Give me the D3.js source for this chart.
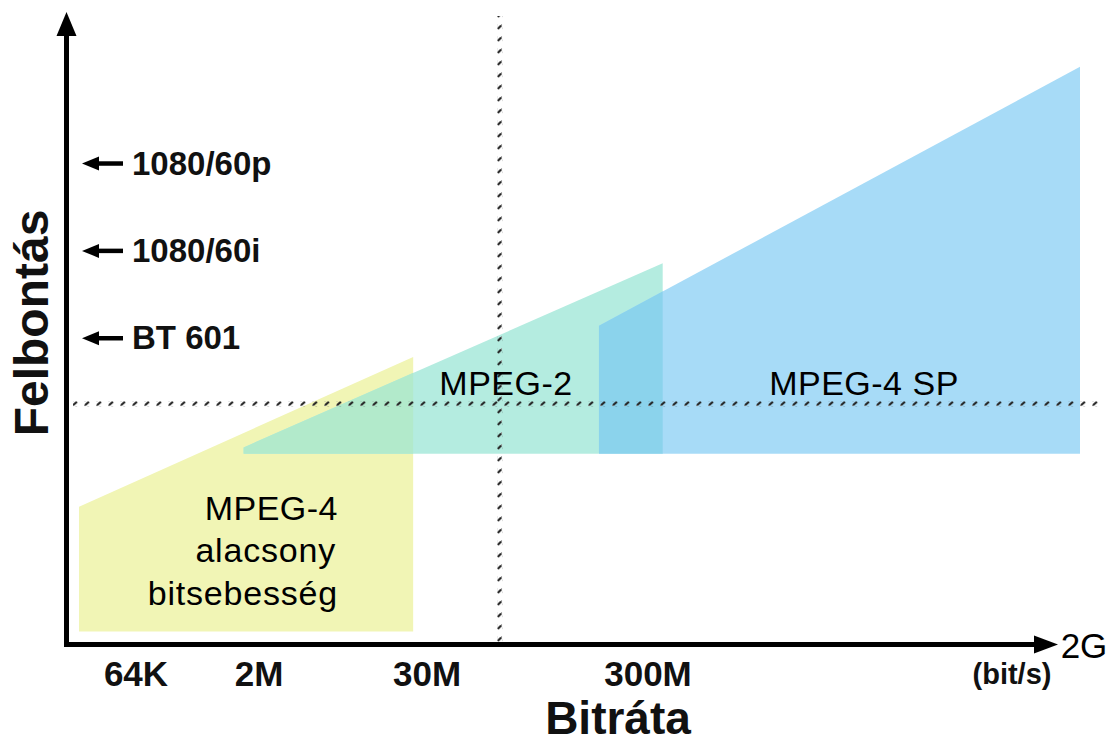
<!DOCTYPE html>
<html>
<head>
<meta charset="utf-8">
<script src="https://cdn.jsdelivr.net/npm/d3@7"></script>
<style>
  html, body { margin: 0; padding: 0; background: #fff; }
  svg { display: block; font-family: "Liberation Sans", Arial, sans-serif; }
</style>
</head>
<body>
<svg id="chart" width="1116" height="744"></svg>
<script>
// ---------------- DATA ----------------
// Bitrate axis (bit/s)
const xTickLabels = ["64K", "2M", "30M", "300M", "2G"];
const xTickValues = [64e3, 2e6, 30e6, 300e6, 2e9];

// Resolution reference levels (relative scale 0..100)
const resLabels = ["1080/60p", "1080/60i", "BT 601"];
const resLevels = [77, 63, 49];

// Codec regions: bitrate span, bottom level, top level at start / end
const codecNames   = ["MPEG-4 alacsony bitsebesség", "MPEG-2", "MPEG-4 SP"];
const codecRateMin = [13e3, 1.3e6, 180e6];
const codecRateMax = [24e6, 320e6, 2e9];
const codecLevelBottom = [2, 30.5, 30.5];
const codecLevelTopStart = [22, 31.5, 51];
const codecLevelTopEnd   = [46, 61, 92.5];

// Reference (dotted) lines
const refRate = 64e6;
const refLevel = 38.5;

// ---------------- LAYOUT ----------------
const svg = d3.select("#chart");
const axisX = 66.5, axisY = 644.5;
const tickPixel = [136, 259, 427, 648, 1080];
const x = d3.scaleLinear().domain(xTickValues.map(Math.log10)).range(tickPixel);
const xr = v => x(Math.log10(v));
const y = d3.scaleLinear().domain([0, 100]).range([644, 20]);

const colors = ["#f1f5b5", "#b4ece0", "#a7dbf7"];
const overlapYT = "#b2eacb";
const overlapTB = "#8bd3ec";

const defs = svg.append("defs");

const shapes = codecNames.map((n, i) => ({
  name: n,
  pts: [
    [xr(codecRateMin[i]), y(codecLevelBottom[i])],
    [xr(codecRateMin[i]), y(codecLevelTopStart[i])],
    [xr(codecRateMax[i]), y(codecLevelTopEnd[i])],
    [xr(codecRateMax[i]), y(codecLevelBottom[i])]
  ]
}));
const line = d3.line();

shapes.forEach((s, i) => {
  defs.append("clipPath").attr("id", "clip" + i)
    .append("path").attr("d", line(s.pts) + "Z");
});

const g = svg.append("g");
g.selectAll("path.region").data(shapes).join("path")
  .attr("class", "region")
  .attr("d", d => line(d.pts) + "Z")
  .attr("fill", (d, i) => colors[i]);

g.append("path").attr("d", line(shapes[1].pts) + "Z")
  .attr("fill", overlapYT).attr("clip-path", "url(#clip0)");
g.append("path").attr("d", line(shapes[2].pts) + "Z")
  .attr("fill", overlapTB).attr("clip-path", "url(#clip1)");

// dotted patterns (small slashes)
const ph = defs.append("pattern").attr("id", "dashH")
  .attr("patternUnits", "userSpaceOnUse").attr("width", 12).attr("height", 5)
  .attr("x", 0).attr("y", y(refLevel) - 2.5);
ph.append("path").attr("d", "M1,4 L5,0.5").attr("stroke", "#222").attr("stroke-width", 2.2);
ph.append("rect").attr("x", 0).attr("y", 4).attr("width", 2).attr("height", 1).attr("fill", "#888");
const pv = defs.append("pattern").attr("id", "dashV")
  .attr("patternUnits", "userSpaceOnUse").attr("width", 5).attr("height", 12)
  .attr("x", xr(refRate) - 2.5).attr("y", 0);
pv.append("path").attr("d", "M0.5,5 L4,1.5").attr("stroke", "#222").attr("stroke-width", 2.2);
pv.append("rect").attr("x", 4).attr("y", 0).attr("width", 1).attr("height", 2).attr("fill", "#999");

g.append("rect").attr("x", 73).attr("y", y(refLevel) - 2.5)
  .attr("width", 1102 - 73).attr("height", 5).attr("fill", "url(#dashH)");
g.append("rect").attr("x", xr(refRate) - 2.5).attr("y", 16)
  .attr("width", 5).attr("height", axisY - 16).attr("fill", "url(#dashV)");

// region labels
const lab = svg.append("g").attr("fill", "#000").attr("font-size", 34);
lab.append("text").attr("x", 338).attr("y", 520).attr("text-anchor", "end").attr("letter-spacing", 0.5).text("MPEG-4");
lab.append("text").attr("x", 336).attr("y", 562).attr("text-anchor", "end").attr("letter-spacing", 0.8).text("alacsony");
lab.append("text").attr("x", 338).attr("y", 605).attr("text-anchor", "end").attr("letter-spacing", 0.8).text("bitsebesség");
lab.append("text").attr("x", 506).attr("y", 395).attr("text-anchor", "middle").attr("letter-spacing", 0.5).text("MPEG-2");
lab.append("text").attr("x", 864).attr("y", 395).attr("text-anchor", "middle").attr("letter-spacing", 0.5).text("MPEG-4 SP");

// axes
const ax = svg.append("g");
ax.append("line").attr("x1", axisX).attr("x2", axisX).attr("y1", axisY + 2.5).attr("y2", 34)
  .attr("stroke", "#000").attr("stroke-width", 5);
ax.append("path").attr("d", `M${axisX},12 L${axisX - 10},36 L${axisX + 10},36 Z`).attr("fill", "#000");
ax.append("line").attr("x1", axisX - 2.5).attr("x2", 1038).attr("y1", axisY).attr("y2", axisY)
  .attr("stroke", "#000").attr("stroke-width", 5);
ax.append("path").attr("d", `M1058,${axisY} L1034,${axisY - 9} L1034,${axisY + 9} Z`).attr("fill", "#000");

// x tick labels
ax.selectAll("text.xt").data(xTickLabels.slice(0, 4)).join("text")
  .attr("class", "xt")
  .attr("x", (d, i) => xr(xTickValues[i]))
  .attr("y", 686)
  .attr("text-anchor", "middle")
  .attr("font-size", 35).attr("font-weight", "bold").attr("fill", "#111")
  .text(d => d);
ax.append("text").attr("x", xr(xTickValues[4]) + 4).attr("y", 658)
  .attr("text-anchor", "middle").attr("font-size", 35).attr("fill", "#000")
  .text(xTickLabels[4]);
ax.append("text").attr("x", 1012).attr("y", 684).attr("text-anchor", "middle")
  .attr("font-size", 29).attr("font-weight", "bold").attr("fill", "#111").text("(bit/s)");

// resolution markers
const rg = ax.selectAll("g.res").data(resLabels).join("g").attr("class", "res")
  .attr("transform", (d, i) => `translate(0,${y(resLevels[i])})`);
rg.append("line").attr("x1", 96).attr("x2", 123).attr("y1", 0).attr("y2", 0)
  .attr("stroke", "#000").attr("stroke-width", 4.5);
rg.append("path").attr("d", "M82,0 L99,-7 L99,7 Z").attr("fill", "#000");
rg.append("text").attr("x", 132).attr("y", 11)
  .attr("font-size", 33).attr("font-weight", "bold").attr("fill", "#111")
  .text(d => d);

// axis titles
svg.append("text").attr("x", 618).attr("y", 734).attr("text-anchor", "middle")
  .attr("font-size", 46).attr("font-weight", "bold").attr("fill", "#111").text("Bitráta");
svg.append("text").attr("transform", "translate(48,323) rotate(-90)").attr("text-anchor", "middle")
  .attr("font-size", 48).attr("font-weight", "bold").attr("fill", "#111").text("Felbontás");
</script>
</body>
</html>
